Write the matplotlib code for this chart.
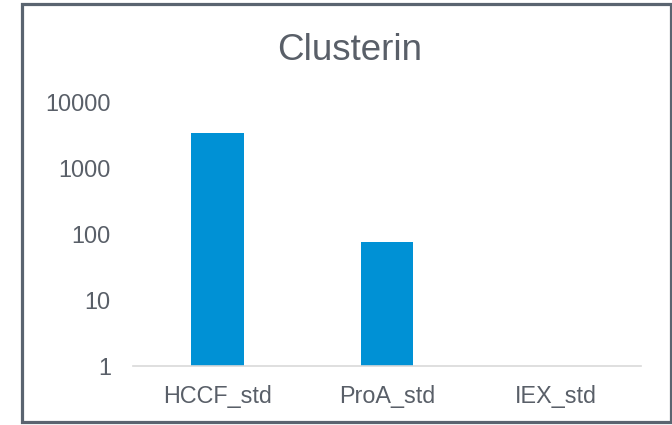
import matplotlib
matplotlib.use("Agg")
import matplotlib.pyplot as plt
from matplotlib.patches import Rectangle
import numpy as np

categories = ["HCCF_std", "ProA_std", "IEX_std"]
values = [3350, 76, 1]
title = "Clusterin"
yticks = [1, 10, 100, 1000, 10000]
ytick_labels = ["1", "10", "100", "1000", "10000"]

plt.rcParams['font.family'] = ['Liberation Sans', 'DejaVu Sans']
text_color = "#595f68"
W, H = 672, 425
fig = plt.figure(figsize=(W/100, H/100), dpi=100)
ax = fig.add_axes([133/W, 1-366/H, (641-133)/W, (366-102)/H])

x = np.arange(len(categories))
ax.bar(x, values, width=0.31, color="#0091d5", bottom=0)
ax.set_yscale("log")
ax.set_ylim(1, 10000)
ax.set_xlim(-0.5, len(categories)-0.5)
ax.set_yticks(yticks)
ax.set_yticklabels(ytick_labels)
ax.minorticks_off()
ax.set_xticks(x)
ax.set_xticklabels(categories)
ax.tick_params(axis='y', length=0, pad=16, labelsize=16.8, labelcolor=text_color)
ax.tick_params(axis='x', length=0, pad=14, labelsize=16.8, labelcolor=text_color)
for s in ["left", "right", "top"]:
    ax.spines[s].set_visible(False)
ax.spines["bottom"].set_color("#d9d9d9")
ax.spines["bottom"].set_linewidth(1.2)

fig.text(350/W, 1-50/H, title, ha="center", va="center", fontsize=26.5, color=text_color)

fig.patches.append(Rectangle((21.5/W, 3.5/H), (670.5-21.5)/W, (421.5-3.5)/H,
                             transform=fig.transFigure, fill=False,
                             edgecolor="#5a6470", linewidth=2.3))
fig.savefig("out.png", dpi=100)
